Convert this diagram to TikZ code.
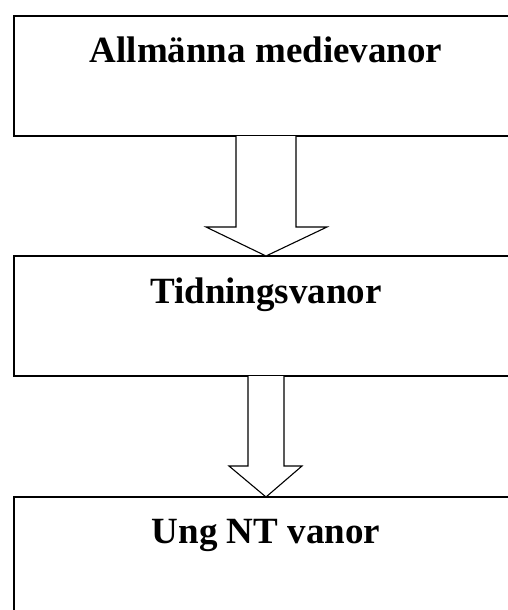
\documentclass[tikz,border=0pt]{standalone}
\usepackage{fontspec}
\setmainfont{Liberation Serif}
\usetikzlibrary{calc}
\tikzset{
  boxnode/.style={draw=black, line width=1.6pt, minimum width=520pt, minimum height=120pt, anchor=north west, inner sep=0pt, outer sep=0pt},
  lbl/.style={anchor=base, inner sep=0pt, font=\fontsize{37}{40}\selectfont\bfseries},
  bigarrow/.style={draw=black, line width=1.1pt, fill=white, line join=miter},
}
\begin{document}
\begin{tikzpicture}[x=1pt,y=-1pt]
\useasboundingbox (0,0) rectangle (508,610);
\clip (0,0) rectangle (508,610);
\fill[white] (0,0) rectangle (508,610);
\node[boxnode] (b1) at (14,16) {};
\node[boxnode] (b2) at (14,256) {};
\node[boxnode] (b3) at (14,497) {};
\node[lbl] (t1) at ($(b1.north west)+(252,47)$) {Allmänna medievanor};
\node[lbl] (t2) at ($(b2.north west)+(252,47)$) {Tidningsvanor};
\node[lbl] (t3) at ($(b3.north west)+(252,46)$) {Ung NT vanor};
% arrow 1
\coordinate (a1) at ($(b1.south west)+(252,0)$);
\coordinate (a1t) at ($(b2.north west)+(252,0)$);
\draw[bigarrow] ($(a1)+(-30,0)$) -- ($(a1)+(-30,91)$) -- ($(a1)+(-60,91)$) -- (a1t) -- ($(a1)+(61,91)$) -- ($(a1)+(30,91)$) -- ($(a1)+(30,0)$);
% arrow 2
\coordinate (a2) at ($(b2.south west)+(252,0)$);
\coordinate (a2t) at ($(b3.north west)+(252,0)$);
\draw[bigarrow] ($(a2)+(-18,0)$) -- ($(a2)+(-18,90)$) -- ($(a2)+(-37,90)$) -- (a2t) -- ($(a2)+(36,90)$) -- ($(a2)+(18,90)$) -- ($(a2)+(18,0)$);
\end{tikzpicture}
\end{document}
